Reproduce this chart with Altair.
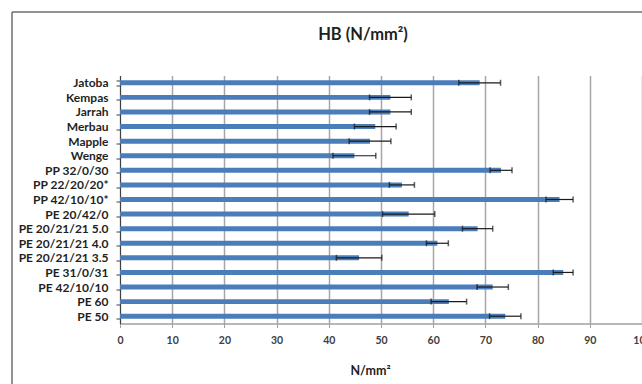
import altair as alt
import pandas as pd

categories = ["Jatoba", "Kempas", "Jarrah", "Merbau", "Mapple", "Wenge",
              "PP 32/0/30", "PP 22/20/20*", "PP 42/10/10*", "PE 20/42/0",
              "PE 20/21/21 5.0", "PE 20/21/21 4.0", "PE 20/21/21 3.5",
              "PE 31/0/31", "PE 42/10/10", "PE 60", "PE 50"]
values = [68.9, 51.8, 51.8, 48.9, 47.9, 44.9, 73.0, 54.0, 84.2, 55.3,
          68.5, 60.8, 45.8, 84.9, 71.4, 63.0, 73.8]
errors = [4.0, 4.0, 4.0, 4.0, 4.0, 4.1, 2.1, 2.4, 2.6, 5.0,
          2.9, 2.1, 4.35, 1.9, 3.0, 3.4, 3.0]
x_ticks = [0, 10, 20, 30, 40, 50, 60, 70, 80, 90, 100]
chart_title = "HB (N/mm²)"

df = pd.DataFrame({"cat": categories, "val": values, "err": errors})
df["lo"] = df["val"] - df["err"]
df["hi"] = df["val"] + df["err"]

FONT = "Lato"
xscale = alt.Scale(domain=[0, 100], nice=False, zero=True)
yscale = alt.Scale(domain=categories, paddingInner=0.66, paddingOuter=0.33)

base = alt.Chart(df)

bars = base.mark_bar(color="#4A7DBA").encode(
    x=alt.X("val:Q", scale=xscale,
            axis=alt.Axis(values=x_ticks, grid=True, gridColor="#A6A6A6", gridWidth=1.5,
                          domainColor="#A0A0A0", domainWidth=1.5, tickColor="#A0A0A0",
                          tickSize=4, labelFont=FONT, labelFontSize=10.5, labelFontWeight="bold",
                          labelColor="#404040", labelPadding=8, labelFlush=False,
                          title="N/mm²", titleFont=FONT, titleFontSize=12.5,
                          titleFontWeight="bold", titleColor="#1F1F1F",
                          titleX=250, titleY=46.5, titleBaseline="middle", titleAlign="center")),
    y=alt.Y("cat:N", sort=categories, scale=yscale,
            axis=alt.Axis(title=None, tickBand="extent", domainColor="#404040",
                          tickColor="#404040", tickSize=4, labelFont=FONT, labelFontSize=12,
                          labelFontWeight="bold", labelColor="#1F1F1F", labelPadding=8,
                          grid=False)),
)

rule = base.mark_rule(color="#1A1A1A", strokeWidth=1.2).encode(
    x="lo:Q", x2="hi:Q", y=alt.Y("cat:N", sort=categories))
cap_lo = base.mark_tick(orient="vertical", size=6, thickness=1.5, color="#1A1A1A").encode(
    x="lo:Q", y=alt.Y("cat:N", sort=categories))
cap_hi = base.mark_tick(orient="vertical", size=6, thickness=1.5, color="#1A1A1A").encode(
    x="hi:Q", y=alt.Y("cat:N", sort=categories))

frame_df = pd.DataFrame({"a": [0]})
frame_left = alt.Chart(frame_df).mark_rule(color="#6E6E6E", strokeWidth=1.5).encode(
    x=alt.value(-108), y=alt.value(-63.5), y2=alt.value(400))
frame_top = alt.Chart(frame_df).mark_rule(color="#6E6E6E", strokeWidth=1.5).encode(
    x=alt.value(-108), x2=alt.value(700), y=alt.value(-63.5))
title_mark = alt.Chart(frame_df).mark_text(
    text=chart_title, font=FONT, fontSize=16.5, fontWeight="bold", color="#1F1F1F",
    align="center", baseline="middle").encode(x=alt.value(243), y=alt.value(-40.5))

chart = alt.layer(bars, rule, cap_lo, cap_hi, frame_left, frame_top, title_mark).properties(
    width=522, height=248,
    autosize=alt.AutoSizeParams(type="none"),
    padding={"left": 120, "top": 75.5, "right": 0, "bottom": 60.5},
).configure_view(stroke=None)

chart.save("out.html", embed_options={"renderer": "svg", "actions": False})
